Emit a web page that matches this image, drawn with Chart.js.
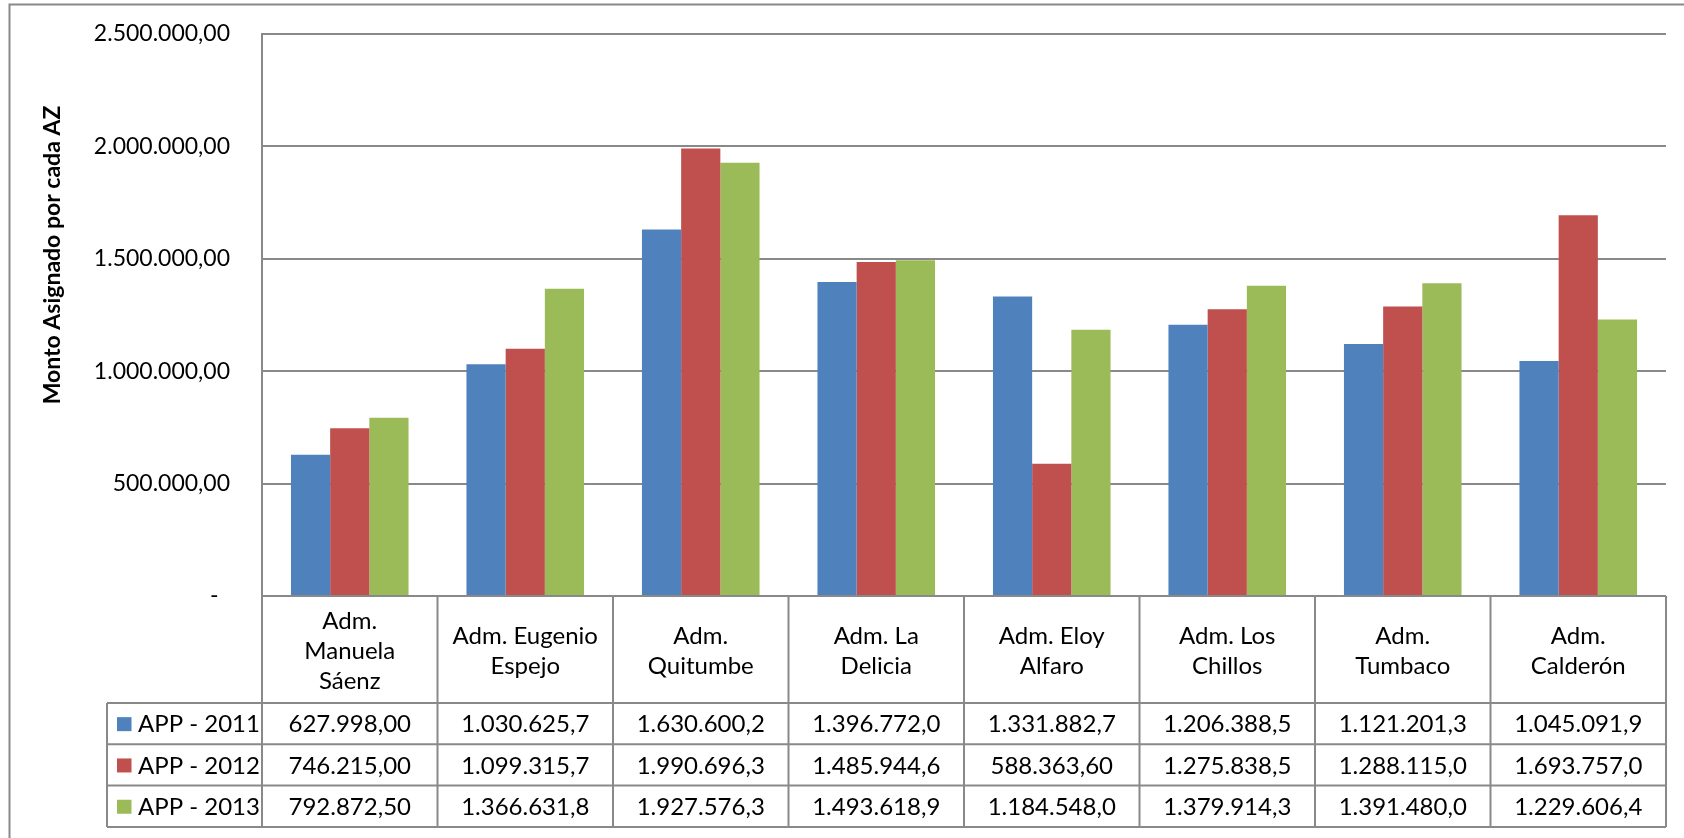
<!DOCTYPE html>
<html>
<head>
<meta charset="utf-8">
<script src="https://cdn.jsdelivr.net/npm/chart.js@4/dist/chart.umd.min.js"></script>
<style>
html,body{margin:0;padding:0;background:#fff;}
canvas{display:block;}
</style>
</head>
<body>
<canvas id="c" width="1684" height="838"></canvas>
<script>
const categories = [
  ['Adm.','Manuela','Sáenz'],
  ['Adm. Eugenio','Espejo'],
  ['Adm.','Quitumbe'],
  ['Adm. La','Delicia'],
  ['Adm. Eloy','Alfaro'],
  ['Adm. Los','Chillos'],
  ['Adm.','Tumbaco'],
  ['Adm.','Calderón']
];
const seriesNames = ['APP - 2011', 'APP - 2012', 'APP - 2013'];
const app2011 = [627998.00, 1030625.7, 1630600.2, 1396772.0, 1331882.7, 1206388.5, 1121201.3, 1045091.9];
const app2012 = [746215.00, 1099315.7, 1990696.3, 1485944.6, 588363.60, 1275838.5, 1288115.0, 1693757.0];
const app2013 = [792872.50, 1366631.8, 1927576.3, 1493618.9, 1184548.0, 1379914.3, 1391480.0, 1229606.4];
const seriesColors = ['#4F81BD', '#C0504D', '#9BBB59'];
const yAxisTitle = 'Monto Asignado por cada AZ';

const FONT = 'Lato';
const FS = 24;
const TICK_FS = 23;
const LINE = '#898989';

function fmt(v, dec) {
  const s = v.toFixed(dec);
  const parts = s.split('.');
  const intPart = parts[0].replace(/\B(?=(\d{3})+(?!\d))/g, '.');
  return parts.length > 1 ? intPart + ',' + parts[1] : intPart;
}
function cellText(v) {
  return v >= 1000000 ? fmt(v, 1) : fmt(v, 2);
}

const allSeries = [app2011, app2012, app2013];

const tablePlugin = {
  id: 'excelTable',
  afterDraw(chart) {
    const ctx = chart.ctx;
    const xs = chart.scales.x;
    const area = chart.chartArea;
    const n = categories.length;
    const colW = (area.right - area.left) / n;
    const base = area.bottom;
    const headerBottom = base + 107;
    const rowH = 41.3;
    const tableBottom = headerBottom + rowH * 3;
    const legendLeft = 107;

    ctx.save();
    ctx.strokeStyle = LINE;
    ctx.lineWidth = 2;
    ctx.beginPath();
    ctx.moveTo(area.left, base); ctx.lineTo(area.right, base);
    for (let i = 0; i <= n; i++) {
      const x = xs.getPixelForValue(i) - colW / 2;
      ctx.moveTo(x, base); ctx.lineTo(x, tableBottom);
    }
    for (let r = 0; r <= 3; r++) {
      const y = headerBottom + rowH * r;
      ctx.moveTo(legendLeft, y); ctx.lineTo(area.right, y);
    }
    ctx.moveTo(legendLeft, headerBottom); ctx.lineTo(legendLeft, tableBottom);
    ctx.stroke();

    // outer chart border
    ctx.beginPath();
    ctx.moveTo(9.5, 845); ctx.lineTo(9.5, 4.5); ctx.lineTo(1700, 4.5);
    ctx.stroke();

    // header labels
    ctx.fillStyle = '#000';
    ctx.font = FS + 'px ' + FONT;
    ctx.textAlign = 'center';
    ctx.textBaseline = 'middle';
    const lh = 30;
    const hc = (base + headerBottom) / 2 + 1.5;
    categories.forEach((lab, i) => {
      const x = xs.getPixelForValue(i);
      const y0 = hc - (lab.length - 1) * lh / 2;
      lab.forEach((t, k) => ctx.fillText(t, x, y0 + k * lh));
    });

    // data rows
    allSeries.forEach((arr, r) => {
      const yc = headerBottom + rowH * r + rowH / 2 + 1;
      arr.forEach((v, i) => {
        ctx.fillText(cellText(v), xs.getPixelForValue(i), yc);
      });
      ctx.fillStyle = seriesColors[r];
      ctx.fillRect(117, yc - 7.5, 14.5, 14);
      ctx.fillStyle = '#000';
      ctx.textAlign = 'left';
      ctx.fillText(seriesNames[r], 138, yc);
      ctx.textAlign = 'center';
    });

    // y axis title
    ctx.save();
    ctx.translate(53, 255);
    ctx.rotate(-Math.PI / 2);
    ctx.font = 'bold 23px ' + FONT;
    ctx.textAlign = 'center';
    ctx.textBaseline = 'middle';
    ctx.fillText(yAxisTitle, 0, 0);
    ctx.restore();

    ctx.restore();
  }
};

new Chart(document.getElementById('c'), {
  type: 'bar',
  data: {
    labels: categories,
    datasets: seriesNames.map((name, i) => ({
      label: name,
      data: allSeries[i],
      backgroundColor: seriesColors[i],
      borderWidth: 0,
      categoryPercentage: 0.67,
      barPercentage: 1.0
    }))
  },
  options: {
    responsive: false,
    animation: false,
    layout: { padding: { top: 34, right: 18, left: 0, bottom: 0 } },
    plugins: { legend: { display: false }, tooltip: { enabled: false } },
    scales: {
      x: {
        ticks: { display: false },
        grid: { display: false, drawTicks: false },
        border: { display: false },
        afterFit(scale) { scale.height = 242; }
      },
      y: {
        min: 0, max: 2500000,
        ticks: {
          stepSize: 500000,
          padding: 32,
          color: '#000',
          font: { family: FONT, size: TICK_FS },
          callback: (v) => v === 0 ? '-\u2002' : fmt(v, 2)
        },
        grid: { color: LINE, lineWidth: 2, drawTicks: false },
        border: { display: true, color: LINE, width: 2 },
        afterFit(scale) {
          scale.width = 262;
          scale.paddingTop = 0;
          scale.paddingBottom = 0;
        }
      }
    }
  },
  plugins: [tablePlugin]
});
</script>
</body>
</html>
